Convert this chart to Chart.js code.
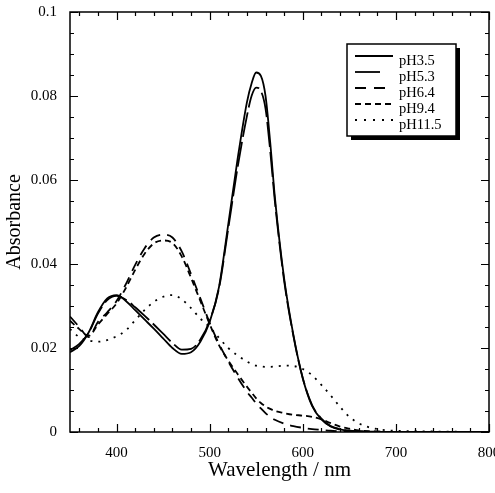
<!DOCTYPE html>
<html><head><meta charset="utf-8">
<script src="https://cdn.jsdelivr.net/npm/chart.js@4.4.1/dist/chart.umd.min.js"></script>
<style>html,body{margin:0;padding:0;background:#fff;overflow:hidden}#wrap{width:495px;height:493px}</style>
</head><body><div id="wrap"><canvas id="c" width="495" height="493"></canvas></div>
<script>
const wavelengths = [350,360,370,380,390,400,410,420,430,440,450,460,470,480,490,500,510,520,530,540,545,550,555,560,565,570,580,590,600,610,620,630,640,650,660,670,680,690,700,750,800];
const pH35 = [0.0190,0.0205,0.0237,0.0285,0.0318,0.0326,0.0312,0.0290,0.0268,0.0246,0.0223,0.0200,0.0186,0.0190,0.0215,0.0262,0.0345,0.0495,0.0650,0.0785,0.0830,0.0856,0.0848,0.0800,0.0690,0.0560,0.0365,0.0230,0.0128,0.0062,0.0030,0.0013,0.0006,0.0003,0.0002,0.0001,0.0001,0,0,0,0];
const pH53 = [0.0195,0.0210,0.0236,0.0282,0.0314,0.0324,0.0315,0.0297,0.0277,0.0256,0.0234,0.0212,0.0196,0.0198,0.0220,0.0265,0.0342,0.0485,0.0630,0.0752,0.0800,0.0820,0.0812,0.0770,0.0670,0.0550,0.0360,0.0228,0.0128,0.0064,0.0032,0.0014,0.0007,0.0003,0.0002,0.0001,0.0001,0,0,0,0];
const pH64 = [0.0275,0.0250,0.0226,0.0262,0.0285,0.0312,0.0352,0.0398,0.0437,0.0463,0.0470,0.0463,0.0430,0.0376,0.0318,0.0260,0.0210,0.0168,0.0130,0.0096,0.0082,0.0068,0.0056,0.0045,0.0036,0.0029,0.0020,0.0014,0.0010,0.0007,0.0005,0.0003,0.0002,0.0001,0.0001,0,0,0,0,0,0];
const pH94 = [0.0265,0.0245,0.0229,0.0256,0.0281,0.0306,0.0343,0.0386,0.0424,0.0449,0.0456,0.0450,0.0418,0.0367,0.0312,0.0257,0.0207,0.0170,0.0138,0.0108,0.0094,0.0080,0.0069,0.0061,0.0055,0.0050,0.0045,0.0041,0.0039,0.0036,0.0030,0.0021,0.0013,0.0008,0.0004,0.0002,0.0001,0,0,0,0];
const pH115 = [0.0245,0.0226,0.0218,0.0215,0.0219,0.0228,0.0242,0.0266,0.0290,0.0310,0.0322,0.0326,0.0316,0.0295,0.0270,0.0250,0.0224,0.0200,0.0182,0.0168,0.0162,0.0158,0.0156,0.0155,0.0155,0.0156,0.0158,0.0157,0.0150,0.0135,0.0112,0.0087,0.0060,0.0036,0.0021,0.0012,0.0007,0.0004,0.0003,0.0001,0];
const seriesLabels = ['pH3.5','pH5.3','pH6.4','pH9.4','pH11.5'];
const seriesValues = [pH35,pH53,pH64,pH94,pH115];
const xTicks = [400,500,600,700,800];
const yTicks = [0,0.02,0.04,0.06,0.08,0.1];

const dashes = [[],[25,5],[11,7],[6,4],[2,6]];
const legendDashes = [[],[25,15],[11,8],[6,4],[2,7]];
const FONT = 'Liberation Serif, Times New Roman, serif';

const datasets = seriesValues.map((vals,i)=>({
  label: seriesLabels[i],
  data: wavelengths.map((w,j)=>({x:w,y:vals[j]})),
  borderColor:'#000', borderWidth:1.8, borderDash:dashes[i],
  pointRadius:0, fill:false, cubicInterpolationMode:'monotone'
}));

const framePlugin = {
  id:'frame',
  afterDatasetsDraw(chart){
    const ctx = chart.ctx, a = chart.chartArea, xs = chart.scales.x, ys = chart.scales.y;
    ctx.save();
    ctx.strokeStyle='#000'; ctx.lineWidth=1.5; ctx.setLineDash([]);
    ctx.strokeRect(a.left,a.top,a.right-a.left,a.bottom-a.top);
    ctx.lineWidth=1.2;
    ctx.beginPath();
    for(let v=360; v<=800; v+=20){
      const p = Math.round(xs.getPixelForValue(v))+0.5;
      const L = (v%100===0)?8:4;
      ctx.moveTo(p,a.bottom); ctx.lineTo(p,a.bottom-L);
      ctx.moveTo(p,a.top); ctx.lineTo(p,a.top+L);
    }
    for(let k=0;k<=20;k++){
      const v = k*0.005;
      const p = Math.round(ys.getPixelForValue(v))+0.5;
      const L = (k%4===0)?8:4;
      ctx.moveTo(a.left,p); ctx.lineTo(a.left+L,p);
      ctx.moveTo(a.right,p); ctx.lineTo(a.right-L,p);
    }
    ctx.stroke();
    const bx=347, by=44, bw=109, bh=92;
    ctx.fillStyle='#000'; ctx.fillRect(bx+4,by+4,bw,bh);
    ctx.fillStyle='#fff'; ctx.fillRect(bx,by,bw,bh);
    ctx.lineWidth=1.5; ctx.strokeRect(bx,by,bw,bh);
    const rows=[56,72,88,104,120];
    ctx.font='14.5px '+FONT; ctx.fillStyle='#000'; ctx.textBaseline='middle'; ctx.textAlign='left';
    seriesLabels.forEach((lab,i)=>{
      ctx.beginPath(); ctx.lineWidth=1.8; ctx.setLineDash(legendDashes[i]);
      ctx.moveTo(355,rows[i]); ctx.lineTo(i===1?380:393,rows[i]); ctx.stroke();
      ctx.setLineDash([]);
      ctx.fillText(lab,399,rows[i]+5);
    });
    ctx.restore();
  }
};

new Chart(document.getElementById('c'),{
  type:'line',
  data:{datasets},
  options:{
    responsive:false, animation:false, devicePixelRatio:1,
    layout:{padding:{top:12,right:6,left:0,bottom:0}},
    plugins:{legend:{display:false},tooltip:{enabled:false}},
    scales:{
      x:{type:'linear',min:350,max:800,
        afterBuildTicks(s){ s.ticks = xTicks.map(v=>({value:v})); },
        afterFit(s){ s.height=61; s.paddingLeft=0; s.paddingRight=0; },
        grid:{display:false,drawTicks:false}, border:{display:false},
        ticks:{font:{family:FONT,size:15},color:'#000',padding:12,maxRotation:0,autoSkip:false,
          callback:(v)=>String(v)},
        title:{display:true,text:'Wavelength / nm',font:{family:FONT,size:21},color:'#000',padding:{top:0,bottom:10}}
      },
      y:{type:'linear',min:0,max:0.1,
        afterBuildTicks(s){ s.ticks = yTicks.map(v=>({value:v})); },
        afterFit(s){ s.width=70; s.paddingTop=0; s.paddingBottom=0; },
        grid:{display:false,drawTicks:false}, border:{display:false},
        ticks:{font:{family:FONT,size:15},color:'#000',padding:13,
          callback:(v)=>String(+Number(v).toFixed(3))},
        title:{display:true,text:'Absorbance',font:{family:FONT,size:20},color:'#000',padding:{top:3,bottom:0}}
      }
    }
  },
  plugins:[framePlugin]
});
</script></body></html>
